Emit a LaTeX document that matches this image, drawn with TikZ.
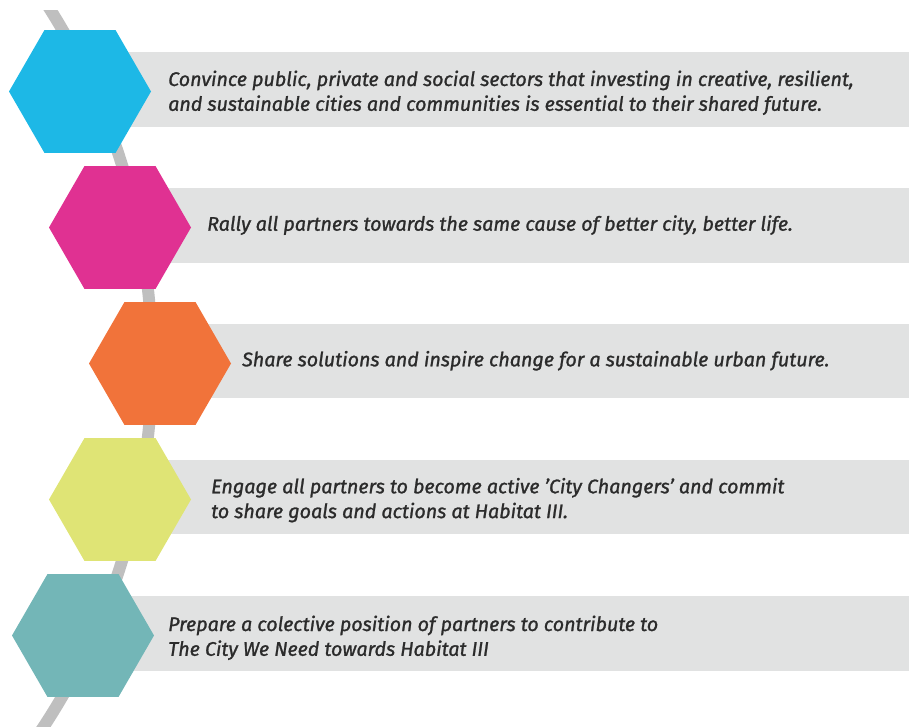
\documentclass[tikz,border=0pt]{standalone}
\usepackage{fontspec}
\setmainfont{Fira Sans}
\newfontfamily\lblfont{Fira Sans}[ItalicFeatures={FakeBold=1.2}]
\usetikzlibrary{shapes.geometric}
\definecolor{hexA}{HTML}{1DB8E6}
\definecolor{hexB}{HTML}{E03192}
\definecolor{hexC}{HTML}{F1733A}
\definecolor{hexD}{HTML}{DFE475}
\definecolor{hexE}{HTML}{73B6B7}
\definecolor{barcol}{HTML}{E1E2E2}
\definecolor{curvecol}{HTML}{BFBFBF}
\definecolor{txtcol}{HTML}{2B2B2B}
\newcommand{\twolines}[2]{\vtop{\hbox{#1}\hbox{#2}}}
\tikzset{
  hexnode/.style={regular polygon, regular polygon sides=6, minimum size=142pt, inner sep=0pt, draw=none},
  barfill/.style={fill=barcol},
  label text/.style={anchor=base west, inner sep=0pt, text=txtcol,
    font=\fontsize{19.7}{24.8}\selectfont\lblfont\itshape}
}
\begin{document}
\begin{tikzpicture}[x=1pt,y=-1pt]
\useasboundingbox (0,0) rectangle (909,727);
% curve
\begin{scope}
\clip (0,11) rectangle (909,727);
\draw[curvecol, line width=12pt] (-512,363) circle (664pt);
\end{scope}
% bars
\fill[barfill] (120,52) rectangle (909,127);
\fill[barfill] (160,188) rectangle (909,263);
\fill[barfill] (200,324) rectangle (909,398);
\fill[barfill] (160,460) rectangle (909,534);
\fill[barfill] (120,596) rectangle (909,671);
% hexagons
\node[hexnode, fill=hexA] (h1) at (80,91.5) {};
\node[hexnode, fill=hexB] (h2) at (120,227.5) {};
\node[hexnode, fill=hexC] (h3) at (160,363.5) {};
\node[hexnode, fill=hexD] (h4) at (120,499.5) {};
\node[hexnode, fill=hexE] (h5) at (83,635.5) {};
% texts
\node[label text] (t1) at (168,86) {\twolines{Convince public, private and social sectors that investing in creative, resilient,}{and sustainable cities and communities is essential to their shared future.}};
\node[label text] (t2) at (207,230.7) {Rally all partners towards the same cause of better city, better life.};
\node[label text] (t3) at (242,366.3) {Share solutions and inspire change for a sustainable urban future.};
\node[label text] (t4) at (211,493.3) {\twolines{Engage all partners to become active ’City Changers’ and commit}{to share goals and actions at Habitat III.}};
\node[label text] (t5) at (168,631) {\twolines{Prepare a colective position of partners to contribute to}{The City We Need towards Habitat III}};
\end{tikzpicture}
\end{document}
